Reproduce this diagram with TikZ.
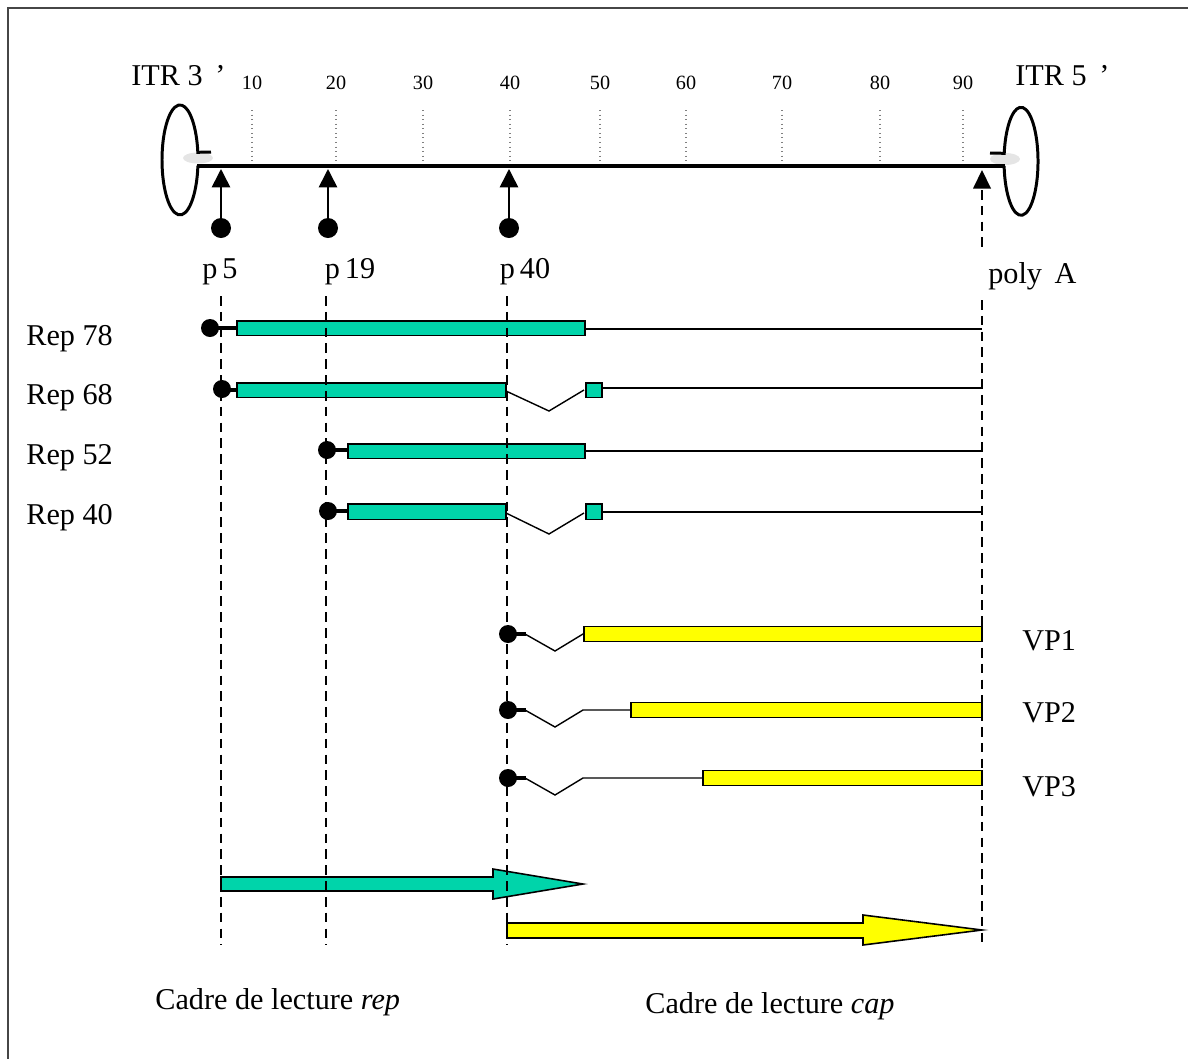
\documentclass[tikz,border=0pt]{standalone}
\usepackage{fontspec}
\setmainfont{Liberation Serif}
\usepackage{tikz}
\usetikzlibrary{arrows.meta,positioning,calc}
\definecolor{repgruen}{RGB}{0,212,170}
\definecolor{capgelb}{RGB}{255,255,0}
\definecolor{rahmen}{RGB}{70,70,70}

\begin{document}
\begin{tikzpicture}[x=0.02cm,y=-0.02cm,
  txt/.style={font=\fontsize{17.2}{19}\selectfont,inner sep=0pt},
  zahl/.style={font=\fontsize{11.5}{13}\selectfont,inner sep=0pt},
  genbalken/.style={draw=black,line width=0.9pt},
  faden/.style={line width=0.8pt},
  stiel/.style={line width=2.3pt},
  punkt/.style={fill=black},
  strich/.style={line width=0.8pt,dash pattern=on 5.5pt off 3.5pt},
  promotor/.style={line width=0.9pt,-{Triangle[length=10.5pt,width=10.5pt]}}]
\useasboundingbox (0,0) rectangle (1188,1059);
%Rahmen, rechts und unten abgeschnitten
\draw[rahmen,line width=1.2pt] (8,1059) -- (8,8) -- (1188,8);
%Genom mit den beiden ITR
\fill[gray!20] (198,158) ellipse[x radius=15,y radius=5.5];
\fill[gray!20] (1005,159) ellipse[x radius=15,y radius=6];
\draw[line width=1.7pt] (197.9,165.7) arc[start angle=6,end angle=352,x radius=18,y radius=55] -- (211,152);
\draw[line width=1.7pt] (1004.1,166) arc[start angle=175,end angle=-171.5,x radius=17,y radius=54] -- (990,153);
\draw[line width=2.4pt] (197,166) -- (1005,166);
\node[txt,anchor=base west] (itrdrei) at (131,85) {ITR 3\, ’};
\node[txt,anchor=base west] (itrfuenf) at (1015,85) {ITR 5\, ’};
\foreach \n/\x in {10/252,20/336,30/423,40/510,50/600,60/686,70/782,80/880,90/963}{
  \draw[gray,dotted,line width=0.6pt] (\x,110) -- (\x,164);
  \node[zahl] (k\n) at (\x,83) {\n};
}
%Promotoren
\foreach \p/\x in {p5/221,p19/328,p40/509}{
  \fill[punkt] (\x,228) circle[radius=10];
  \draw[promotor] (\x,228) -- (\x,169);
}
\node[txt,anchor=base] (lp5) at (220,278) {p\,5};
\node[txt,anchor=base] (lp19) at (350,278) {p\,19};
\node[txt,anchor=base] (lp40) at (525,278) {p\,40};
\node[txt,anchor=base west] (lpolya) at (988,283) {poly\, A};
\fill (982,170) -- (991,188.5) -- (973,188.5) -- cycle;
%Rep Transkripte
\node[txt,anchor=base west] (rep78) at (26,345) {Rep 78};
\node[txt,anchor=base west] (rep68) at (26,404) {Rep 68};
\node[txt,anchor=base west] (rep52) at (26,464) {Rep 52};
\node[txt,anchor=base west] (rep40) at (26,524) {Rep 40};
\draw[faden] (585,329) -- (982,329);
\draw[faden] (602,388) -- (982,388);
\draw[faden] (585,451) -- (982,451);
\draw[faden] (602,512) -- (982,512);
\draw[stiel] (216,328) -- (239,328);
\draw[stiel] (224,390) -- (239,390);
\draw[stiel] (330,450) -- (349,450);
\draw[stiel] (330,511) -- (349,511);
\fill[punkt] (210,328) circle[radius=9];
\fill[punkt] (222,389) circle[radius=9];
\fill[punkt] (327,450) circle[radius=9];
\fill[punkt] (328,511) circle[radius=9];
\filldraw[genbalken,fill=repgruen] (237,321) rectangle (585,335.5);
\filldraw[genbalken,fill=repgruen] (237,383) rectangle (506,397.5);
\filldraw[genbalken,fill=repgruen] (348,444) rectangle (585,458.5);
\filldraw[genbalken,fill=repgruen] (348,504) rectangle (506,519.5);
\draw[faden] (506,391) -- (549,411) -- (584,390);
\draw[faden] (506,513) -- (549,534) -- (584,513);
\filldraw[genbalken,fill=repgruen] (586,383) rectangle (602,397.5);
\filldraw[genbalken,fill=repgruen] (586,504) rectangle (602,519.5);
%Cap Transkripte
\node[txt,anchor=base west] (vp1) at (1022,650) {VP1};
\node[txt,anchor=base west] (vp2) at (1022,722) {VP2};
\node[txt,anchor=base west] (vp3) at (1022,796) {VP3};
\foreach \y/\s in {634/584,710/631,778/703}{
  \draw[stiel] (510,\y) -- (526,\y);
  \fill[punkt] (508,\y) circle[radius=9];
  \draw[faden] (525,\y) -- (555,\y+17) -- (583,\y) -- (\s,\y);
  \filldraw[genbalken,fill=capgelb] (\s,\y-7.5) rectangle (982,\y+7.5);
}
%Leserahmen
\filldraw[genbalken,fill=repgruen] (221,877) -- (493,877) -- (493,869) -- (583,884)
  -- (493,899) -- (493,891) -- (221,891) -- cycle;
\filldraw[genbalken,fill=capgelb] (507,923) -- (863,923) -- (863,915) -- (982,930)
  -- (863,945) -- (863,938) -- (507,938) -- cycle;
\node[txt,anchor=base west] (rep) at (155,1009) {Cadre de lecture \textit{rep}};
\node[txt,anchor=base west] (cap) at (645,1013) {Cadre de lecture \textit{cap}};
%gestrichelte Hilfslinien
\foreach \x in {221,326,507}{
  \draw[strich] (\x,296) -- (\x,945);
}
\draw[strich] (982,190) -- (982,247);
\draw[strich] (982,300) -- (982,945);
\end{tikzpicture}
\end{document}
